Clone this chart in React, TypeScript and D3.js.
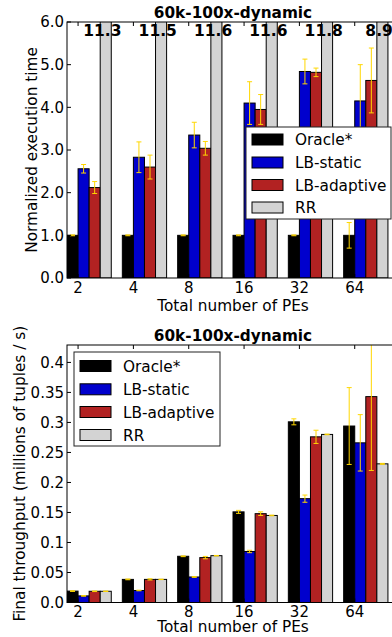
import React from "react";
import * as d3 from "d3";

const groups = ["2", "4", "8", "16", "32", "64"];
const seriesNames = ["Oracle*", "LB-static", "LB-adaptive", "RR"];
const seriesColors = ["#000000", "#0000CD", "#B22222", "#D3D3D3"];

// Plot 1: normalized execution time
const oracleTime = [1.0, 1.0, 1.0, 1.0, 1.0, 1.0];
const oracleTimeErr = [0.01, 0.01, 0.01, 0.01, 0.01, 0.3];
const staticTime = [2.56, 2.83, 3.35, 4.1, 4.84, 4.15];
const staticTimeErr = [0.1, 0.36, 0.3, 0.5, 0.29, 0.85];
const adaptiveTime = [2.12, 2.6, 3.04, 3.95, 4.82, 4.63];
const adaptiveTimeErr = [0.14, 0.28, 0.16, 0.35, 0.1, 0.76];
const rrTime = [11.3, 11.5, 11.6, 11.6, 11.8, 8.9];
const rrTimeErr = [0, 0, 0, 0, 0, 0];
const timeTicks = [0, 1, 2, 3, 4, 5, 6];

// Plot 2: final throughput
const oracleTput = [0.019, 0.0385, 0.077, 0.151, 0.301, 0.294];
const oracleTputErr = [0.0005, 0.0006, 0.0006, 0.0025, 0.005, 0.064];
const staticTput = [0.011, 0.02, 0.0425, 0.085, 0.173, 0.266];
const staticTputErr = [0.0005, 0.0005, 0.0006, 0.002, 0.006, 0.047];
const adaptiveTput = [0.0187, 0.0385, 0.0748, 0.148, 0.276, 0.343];
const adaptiveTputErr = [0.0005, 0.001, 0.002, 0.003, 0.011, 0.123];
const rrTput = [0.0187, 0.0385, 0.078, 0.145, 0.28, 0.231];
const rrTputErr = [0.0003, 0.0003, 0.0004, 0.0005, 0.0005, 0.0008];
const tputTicks = [0, 0.05, 0.1, 0.15, 0.2, 0.25, 0.3, 0.35, 0.4];
const tputTickLabels = ["0.0", "0.05", "0.1", "0.15", "0.2", "0.25", "0.3", "0.35", "0.4"];

const title = "60k-100x-dynamic";
const xLabel = "Total number of PEs";

const FONT = "DejaVu Sans";
const BAR_W = 0.2;

type PlotProps = {
  id: string;
  top: number;
  bottom: number;
  yMax: number;
  values: number[][];
  errors: number[][];
  ticks: number[];
  tickLabels: string[];
  yLabel: string;
  yLabelX: number;
  tickOffset: number;
  xLabelOffset: number;
  legend: { x: number; y: number; w: number; h: number; rowY: number[] };
  topLabels?: string[];
};

function Plot(p: PlotProps) {
  const left = 67;
  const right = 399;
  const x = d3.scaleLinear().domain([0, 6]).range([left, right]);
  const y = d3.scaleLinear().domain([0, p.yMax]).range([p.bottom, p.top]);
  const clipId = "clip-" + p.id;
  const cap = 2.5;
  return (
    <g>
      <defs>
        <clipPath id={clipId}>
          <rect x={left} y={p.top} width={right - left} height={p.bottom - p.top} />
        </clipPath>
      </defs>
      <g clipPath={`url(#${clipId})`}>
        {p.values.map((series, si) =>
          series.map((v, gi) => {
            const x0 = x(gi + si * BAR_W);
            const w = x(gi + (si + 1) * BAR_W) - x0;
            const yTop = y(v);
            return (
              <rect
                key={`b${si}-${gi}`}
                x={x0}
                y={yTop}
                width={w}
                height={p.bottom - yTop}
                fill={seriesColors[si]}
                stroke="#000"
                strokeWidth={1}
              />
            );
          })
        )}
        {p.values.map((series, si) =>
          series.map((v, gi) => {
            const e = p.errors[si][gi];
            const cx = x(gi + si * BAR_W + BAR_W / 2);
            const y1 = y(v + e);
            const y2 = y(v - e);
            return (
              <g key={`e${si}-${gi}`} stroke="#FFD700" strokeWidth={1}>
                <line x1={cx} x2={cx} y1={y1} y2={y2} />
                <line x1={cx - cap} x2={cx + cap} y1={y1} y2={y1} />
                <line x1={cx - cap} x2={cx + cap} y1={y2} y2={y2} />
              </g>
            );
          })
        )}
      </g>
      {/* spines */}
      <rect x={left} y={p.top} width={right - left} height={p.bottom - p.top} fill="none" stroke="#000" strokeWidth={1} />
      {/* y ticks */}
      {p.ticks.map((t, i) => (
        <g key={`yt${i}`}>
          <line x1={left} x2={left + 4} y1={y(t)} y2={y(t)} stroke="#000" />
          <text x={left - 3} y={y(t)} dy="0.36em" textAnchor="end" fontFamily={FONT} fontSize={15}>
            {p.tickLabels[i]}
          </text>
        </g>
      ))}
      {/* x ticks */}
      {groups.map((g, gi) => (
        <g key={`xt${gi}`}>
          <line x1={x(gi + BAR_W)} x2={x(gi + BAR_W)} y1={p.top} y2={p.top + 4} stroke="#000" />
          <line x1={x(gi + BAR_W)} x2={x(gi + BAR_W)} y1={p.bottom} y2={p.bottom - 4} stroke="#000" />
          <text x={x(gi + BAR_W)} y={p.bottom + p.tickOffset} textAnchor="middle" fontFamily={FONT} fontSize={15}>
            {g}
          </text>
        </g>
      ))}
      {p.topLabels &&
        p.topLabels.map((l, gi) => (
          <text
            key={`tl${gi}`}
            x={x(gi + 3 * BAR_W + 0.04)}
            y={p.top + 14}
            textAnchor="middle"
            fontFamily={FONT}
            fontWeight="bold"
            fontSize={15.5}
          >
            {l}
          </text>
        ))}
      <text x={(left + right) / 2} y={p.top - 4.5} textAnchor="middle" fontFamily={FONT} fontWeight="bold" fontSize={15.3}>
        {title}
      </text>
      <text x={(left + right) / 2} y={p.bottom + p.xLabelOffset} textAnchor="middle" fontFamily={FONT} fontSize={15.3}>
        {xLabel}
      </text>
      <text
        transform={`translate(${p.yLabelX},${(p.top + p.bottom) / 2}) rotate(-90)`}
        textAnchor="middle"
        fontFamily={FONT}
        fontSize={15.3}
      >
        {p.yLabel}
      </text>
      {/* legend */}
      <g>
        <rect x={p.legend.x} y={p.legend.y} width={p.legend.w} height={p.legend.h} fill="#fff" stroke="#222" strokeWidth={1} />
        {seriesNames.map((n, i) => (
          <g key={`lg${i}`}>
            <rect
              x={p.legend.x + 6}
              y={p.legend.rowY[i] - 5.5}
              width={31}
              height={11}
              fill={seriesColors[i]}
              stroke="#000"
              strokeWidth={1}
            />
            <text x={p.legend.x + 49} y={p.legend.rowY[i]} dy="0.36em" fontFamily={FONT} fontSize={15.3}>
              {n}
            </text>
          </g>
        ))}
      </g>
    </g>
  );
}

export default function App() {
  return (
    <svg width={392} height={637} style={{ position: "absolute", left: 0, top: 0, background: "#fff" }}>
      <rect x={0} y={0} width={392} height={637} fill="#fff" />
      <Plot
        id="time"
        top={22}
        bottom={278}
        yMax={6}
        values={[oracleTime, staticTime, adaptiveTime, rrTime]}
        errors={[oracleTimeErr, staticTimeErr, adaptiveTimeErr, rrTimeErr]}
        ticks={timeTicks}
        tickLabels={timeTicks.map((t) => t.toFixed(1))}
        yLabel="Normalized execution time"
        yLabelX={37}
        tickOffset={15}
        xLabelOffset={32.5}
        legend={{ x: 246, y: 127, w: 145, h: 92, rowY: [139.5, 162.5, 185, 207.5] }}
        topLabels={rrTime.map((v) => v.toFixed(1))}
      />
      <Plot
        id="tput"
        top={345}
        bottom={602.5}
        yMax={0.429}
        values={[oracleTput, staticTput, adaptiveTput, rrTput]}
        errors={[oracleTputErr, staticTputErr, adaptiveTputErr, rrTputErr]}
        ticks={tputTicks}
        tickLabels={tputTickLabels}
        yLabel="Final throughput (millions of tuples / s)"
        yLabelX={25}
        tickOffset={14.5}
        xLabelOffset={29.5}
        legend={{ x: 74, y: 352, w: 146, h: 94, rowY: [366, 389.3, 412, 435] }}
      />
    </svg>
  );
}
